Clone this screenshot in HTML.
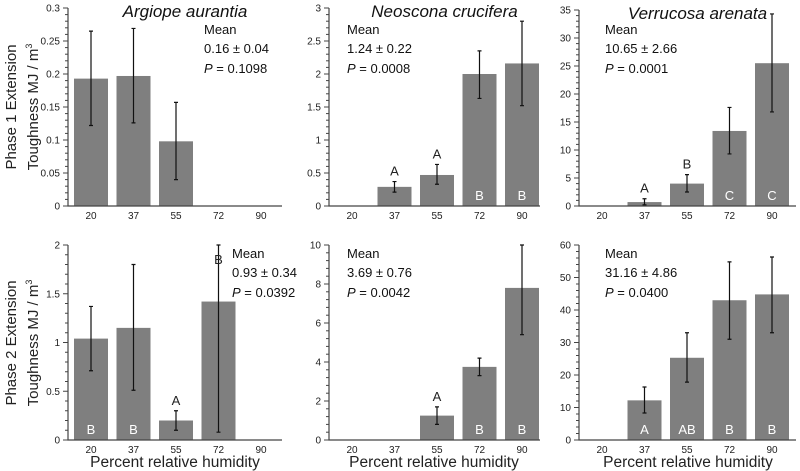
<!DOCTYPE html>
<html><head><meta charset="utf-8"><style>
html,body{margin:0;padding:0;background:#fff;}
svg{display:block;font-family:"Liberation Sans",Arial,sans-serif;}
</style></head><body>
<svg id="c" width="800" height="471" viewBox="0 0 800 471">
<text transform="translate(16,107) rotate(-90)" text-anchor="middle" font-size="15" fill="#222">Phase 1 Extension</text>
<text transform="translate(38,107) rotate(-90)" text-anchor="middle" font-size="15" fill="#222">Toughness  MJ / m<tspan font-size="9" dy="-6">3</tspan></text>
<text transform="translate(16,343) rotate(-90)" text-anchor="middle" font-size="15" fill="#222">Phase 2 Extension</text>
<text transform="translate(38,343) rotate(-90)" text-anchor="middle" font-size="15" fill="#222">Toughness  MJ / m<tspan font-size="9" dy="-6">3</tspan></text>
<text x="175" y="467" text-anchor="middle" font-size="15.5" fill="#222">Percent relative humidity</text>
<text x="434" y="467" text-anchor="middle" font-size="15.5" fill="#222">Percent relative humidity</text>
<text x="688" y="467" text-anchor="middle" font-size="15.5" fill="#222">Percent relative humidity</text>
</svg>
<script>
const categories=["20","37","55","72","90"];
const p1Vals=[0.193,0.197,0.098,null,null], p1Lo=[0.122,0.126,0.04,null,null], p1Hi=[0.265,0.269,0.157,null,null];
const p2Vals=[0,0.29,0.47,2.0,2.16], p2Lo=[null,0.21,0.33,1.63,1.52], p2Hi=[null,0.37,0.63,2.35,2.8];
const p3Vals=[0,0.7,4.0,13.4,25.5], p3Lo=[null,0.2,2.5,9.3,16.8], p3Hi=[null,1.3,5.6,17.6,34.3];
const p4Vals=[1.04,1.15,0.2,1.42,null], p4Lo=[0.71,0.51,0.1,0.08,null], p4Hi=[1.37,1.8,0.3,2.0,null];
const p5Vals=[0,0,1.25,3.75,7.8], p5Lo=[null,null,0.8,3.3,5.4], p5Hi=[null,null,1.7,4.2,10];
const p6Vals=[0,12.2,25.3,43,44.8], p6Lo=[null,8.3,17.8,31,33], p6Hi=[null,16.3,33,54.8,56.3];
const p1Letters=["","","","",""], p2Letters=["","A","A","B","B"], p3Letters=["","A","B","C","C"];
const p4Letters=["B","B","A","B",""], p5Letters=["","","A","B","B"], p6Letters=["","A","AB","B","B"];
const p1Pos=["","","","",""], p2Pos=["","up","up","in","in"], p3Pos=["","up","up","in","in"];
const p4Pos=["in","in","up","top","in"], p5Pos=["","","up","in","in"], p6Pos=["","in","in","in","in"];
const p1Ticks=["0","0.05","0.1","0.15","0.2","0.25","0.3"];
const p2Ticks=["0","0.5","1","1.5","2","2.5","3"];
const p3Ticks=["0","5","10","15","20","25","30","35"];
const p4Ticks=["0","0.5","1","1.5","2"];
const p5Ticks=["0","2","4","6","8","10"];
const p6Ticks=["0","10","20","30","40","50","60"];
const panels=[
 {id:"p1",x0:68,x1:282,top:8,bot:206,vals:p1Vals,lo:p1Lo,hi:p1Hi,letters:p1Letters,pos:p1Pos,ticks:p1Ticks,title:"Argiope aurantia",mean:"0.16 ± 0.04",p:"0.1098",tx:204,ty:34},
 {id:"p2",x0:329,x1:540,top:8,bot:206,vals:p2Vals,lo:p2Lo,hi:p2Hi,letters:p2Letters,pos:p2Pos,ticks:p2Ticks,title:"Neoscona crucifera",mean:"1.24 ± 0.22",p:"0.0008",tx:347,ty:34},
 {id:"p3",x0:579,x1:796,top:10,bot:206,vals:p3Vals,lo:p3Lo,hi:p3Hi,letters:p3Letters,pos:p3Pos,ticks:p3Ticks,title:"Verrucosa arenata",mean:"10.65 ± 2.66",p:"0.0001",tx:605,ty:34},
 {id:"p4",x0:68,x1:282,top:245,bot:440,vals:p4Vals,lo:p4Lo,hi:p4Hi,letters:p4Letters,pos:p4Pos,ticks:p4Ticks,title:"",mean:"0.93 ± 0.34",p:"0.0392",tx:232,ty:258},
 {id:"p5",x0:329,x1:540,top:245,bot:440,vals:p5Vals,lo:p5Lo,hi:p5Hi,letters:p5Letters,pos:p5Pos,ticks:p5Ticks,title:"",mean:"3.69 ± 0.76",p:"0.0042",tx:347,ty:258},
 {id:"p6",x0:579,x1:796,top:245,bot:440,vals:p6Vals,lo:p6Lo,hi:p6Hi,letters:p6Letters,pos:p6Pos,ticks:p6Ticks,title:"",mean:"31.16 ± 4.86",p:"0.0400",tx:605,ty:258}
];
const svg=document.getElementById('c');const NS="http://www.w3.org/2000/svg";
function mk(t,a,par){const e=document.createElementNS(NS,t);for(const k in a)e.setAttribute(k,a[k]);(par||svg).appendChild(e);return e;}
panels.forEach(P=>{
 const g=mk('g',{});
 
 
 const ymax=parseFloat(P.ticks[P.ticks.length-1]);
 const y=v=>P.bot-(v/ymax)*(P.bot-P.top);
 const step=42.5, c0=P.x0+23;
 const x=i=>c0+i*step;
 const nMaj=P.ticks.length-1;
 for(let j=0;j<=nMaj*5;j++){
  const v=ymax*j/(nMaj*5), yy=y(v), maj=j%5===0;
  const t=mk('line',{x1:P.x0-(maj?5:3),x2:P.x0,y1:yy,y2:yy,stroke:"#444","stroke-width":1},g);
  
  
 }
 P.ticks.forEach((lab,j)=>{
  const tl=mk('text',{x:P.x0-8,y:y(parseFloat(lab))+3.5,"text-anchor":"end","font-size":10,fill:"#222"},g);
  tl.textContent=lab;
  
  
 });
 P.vals.forEach((v,i)=>{
  if(v!==null&&v>0){
   const b=mk('rect',{x:x(i)-17,y:y(v),width:34,height:P.bot-y(v),fill:"#7f7f7f"},g);
   
   
  }
  if(P.lo[i]!==null){
   const e=mk('path',{d:`M${x(i)},${y(P.lo[i])}V${y(P.hi[i])}M${x(i)-2},${y(P.lo[i])}h4M${x(i)-2},${y(P.hi[i])}h4`,stroke:"#111","stroke-width":1.2,fill:"none"},g);
   
   
  }
  const L=P.letters[i];
  if(L){
   const pos=P.pos[i];
   let ly, col="#222";
   if(pos==="in"){ly=P.bot-6;col="#fff";}
   else if(pos==="top"){ly=P.top+19;}
   else ly=y(P.hi[i])-6;
   const t=mk('text',{x:x(i),y:ly,"text-anchor":"middle","font-size":13,fill:col},g);
   t.textContent=L;
   
   
  }
  const xl=mk('text',{x:x(i),y:P.bot+13,"text-anchor":"middle","font-size":10,fill:"#222"},g);
  xl.textContent=categories[i];
  
  
 });
 const ax=mk('path',{d:`M${P.x0},${P.top}V${P.bot}H${P.x1}`,stroke:"#444","stroke-width":1.2,fill:"none"},g);
 
 
 if(P.title){
  const t=mk('text',{x:(P.x0+P.x1)/2+10,y:P.top+9,"text-anchor":"middle","font-size":17,"font-style":"italic",fill:"#111"},g);
  t.textContent=P.title;
  
  
 }
 const m=mk('text',{x:P.tx,y:P.ty,"font-size":13,fill:"#111"},g);
 m.textContent="Mean";
 
 
 const m2=mk('text',{x:P.tx,y:P.ty+19,"font-size":13,fill:"#111"},g);
 m2.textContent=P.mean;
 
 
 const pv=mk('text',{x:P.tx,y:P.ty+39,"font-size":13,fill:"#111"},g);
 pv.innerHTML='<tspan font-style="italic">P</tspan> = '+P.p;
 
 
});
</script>
</body></html>
